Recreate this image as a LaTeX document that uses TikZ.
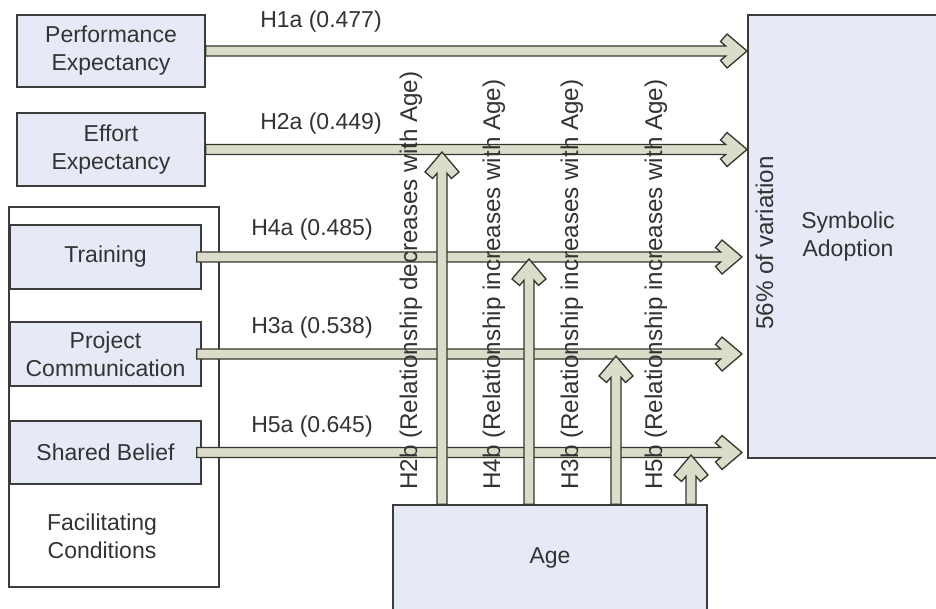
\documentclass[tikz,border=0pt]{standalone}
\usepackage{fontspec}
\setmainfont{Liberation Sans}
\usetikzlibrary{calc}

\definecolor{boxfill}{HTML}{E6EAF6}
\definecolor{boxline}{HTML}{3C3C3C}
\definecolor{shaftfill}{HTML}{DCDCCA}
\definecolor{shaftline}{HTML}{35352C}
\definecolor{ink}{HTML}{333333}

\begin{document}
\begin{tikzpicture}[x=1pt,y=-1pt,
  every node/.style={font=\fontsize{23}{28}\selectfont, text=ink, inner sep=0pt},
  box/.style={draw=boxline, line width=1.3pt, fill=boxfill, align=center},
  % broad shaft ending in an open chevron head, pointing right
  harrow/.style={draw=shaftline, fill=shaftfill, line width=1.3pt, line join=miter,
    to path={let \p1=(\tikztostart), \p2=(\tikztotarget) in
      (\x1,\y1+5pt) -- (\x2-21.3pt,\y1+5pt) -- (\x2-26.5pt,\y1+9.4pt)
      -- (\x2-20pt,\y1+17pt) -- (\x2,\y1) -- (\x2-20pt,\y1-17pt)
      -- (\x2-26.5pt,\y1-9.4pt) -- (\x2-21.3pt,\y1-5pt) -- (\x1,\y1-5pt) -- cycle}},
  % the same shape pointing up
  varrow/.style={draw=shaftline, fill=shaftfill, line width=1.3pt, line join=miter,
    to path={let \p1=(\tikztostart), \p2=(\tikztotarget) in
      (\x1-5pt,\y1) -- (\x1-5pt,\y2-21.3pt) -- (\x1-9.4pt,\y2-26.5pt)
      -- (\x1-17pt,\y2-20pt) -- (\x1,\y2) -- (\x1+17pt,\y2-20pt)
      -- (\x1+9.4pt,\y2-26.5pt) -- (\x1+5pt,\y2-21.3pt) -- (\x1+5pt,\y1) -- cycle}},
  hyp/.style={anchor=base},
  vhyp/.style={rotate=90, anchor=base west, font=\fontsize{24.2}{28}\selectfont}
]
\useasboundingbox (0,0) rectangle (936,609);
\fill[white] (0,0) rectangle (936,609);
\clip (0,0) rectangle (936,609);

% constructs
\node[box, minimum width=188pt, minimum height=72pt] (pe) at (111,51) {Performance\\Expectancy};
\node[box, minimum width=188pt, minimum height=73pt] (ee) at (111,149.5) {Effort\\Expectancy};

\node[draw=boxline, line width=1.3pt, fill=white, minimum width=210pt, minimum height=380pt] (fc) at (114,397) {};
\node[box, minimum width=191pt, minimum height=64pt] (tr) at (105.5,257) {Training};
\node[box, minimum width=191pt, minimum height=64pt] (pc) at (105.5,354) {Project\\Communication};
\node[box, minimum width=191pt, minimum height=63pt] (sb) at (105.5,452.5) {Shared Belief};
\node[align=center] (fcl) at (102,536) {Facilitating\\Conditions};

\node[box, minimum width=200pt, minimum height=443pt] (sa) at (848,236.5) {Symbolic\\Adoption};
\node[box, minimum width=314pt, minimum height=106pt] (age) at (550,558) {Age};

% arrow heads
\coordinate (t1) at (747,51);
\coordinate (t2) at (747,149);
\coordinate (t4) at (742,257);
\coordinate (t3) at (742,353);
\coordinate (t5) at (742,452);
\coordinate (v2) at (442,152);
\coordinate (v4) at (529,259);
\coordinate (v3) at (616,356);
\coordinate (v5) at (691,455);

% direct effects
\draw[harrow] (pe.east) to (t1);
\draw[harrow] (ee.east) to (t2);
\draw[harrow] ([xshift=-5pt]tr.east) to (t4);
\draw[harrow] ([xshift=-5pt]pc.east) to (t3);
\draw[harrow] ([xshift=-5pt]sb.east) to (t5);

% moderating effects of age
\draw[varrow] (v2 |- age.north) to (v2);
\draw[varrow] (v4 |- age.north) to (v4);
\draw[varrow] (v3 |- age.north) to (v3);
\draw[varrow] (v5 |- age.north) to (v5);

% path labels
\node[hyp] (h1a) at (321,28) {H1a (0.477)};
\node[hyp] (h2a) at (321,130) {H2a (0.449)};
\node[hyp] (h4a) at (312,236) {H4a (0.485)};
\node[hyp] (h3a) at (312,334) {H3a (0.538)};
\node[hyp] (h5a) at (312,432) {H5a (0.645)};

\node[vhyp] (h2b) at (417,490) {H2b (Relationship decreases with Age)};
\node[vhyp] (h4b) at (500,490) {H4b (Relationship increases with Age)};
\node[vhyp] (h3b) at (578,490) {H3b (Relationship increases with Age)};
\node[vhyp] (h5b) at (662,490) {H5b (Relationship increases with Age)};
\node[vhyp] (var) at (773,330) {56\% of variation};
\end{tikzpicture}
\end{document}
